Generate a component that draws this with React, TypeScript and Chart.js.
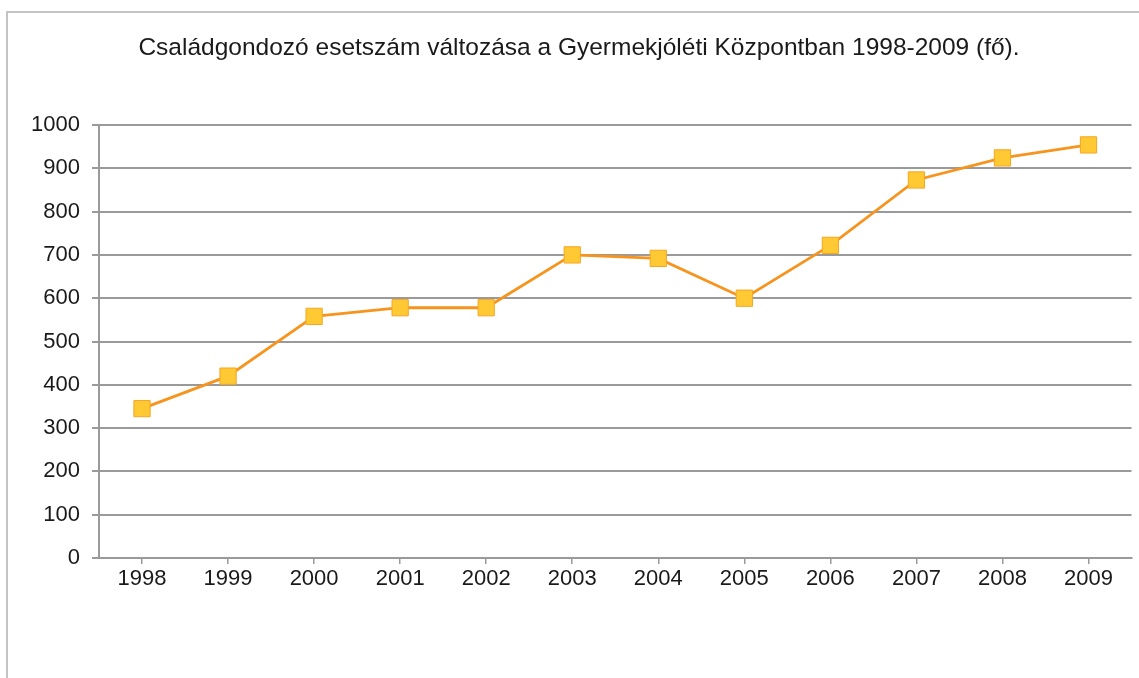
import React, { useEffect, useRef } from "react";
import { Chart, registerables } from "chart.js";

Chart.register(...registerables);

const TITLE = "Családgondozó esetszám változása a Gyermekjóléti Központban 1998-2009 (fő).";
const YEARS = ["1998", "1999", "2000", "2001", "2002", "2003", "2004", "2005", "2006", "2007", "2008", "2009"];
const CASES = [345, 420, 558, 578, 578, 700, 692, 600, 722, 873, 924, 954];
const Y_MIN = 0;
const Y_MAX = 1000;
const Y_STEP = 100;

const FONT = "'Liberation Sans', Arial, sans-serif";

const titlePlugin = {
  id: "offsetTitle",
  afterDraw(chart: any) {
    const ctx = chart.ctx;
    ctx.save();
    ctx.font = `24.5px ${FONT}`;
    ctx.fillStyle = "#1a1a1a";
    ctx.textAlign = "center";
    ctx.textBaseline = "middle";
    ctx.fillText(TITLE, 579, 48);
    ctx.restore();
  },
};

export default function App() {
  const ref = useRef<HTMLCanvasElement | null>(null);

  useEffect(() => {
    if (!ref.current) return;
    const chart = new Chart(ref.current, {
      type: "line",
      data: {
        labels: YEARS,
        datasets: [
          {
            label: "esetszám",
            data: CASES,
            borderColor: "#F7941E",
            borderWidth: 2.8,
            pointStyle: "rect",
            pointRadius: 11.5,
            pointBackgroundColor: "#FFC933",
            pointBorderColor: "#F5A623",
            pointBorderWidth: 1,
            tension: 0,
            fill: false,
          },
        ],
      },
      plugins: [titlePlugin],
      options: {
        responsive: false,
        animation: false,
        layout: { padding: { left: 0, right: 6, top: 125, bottom: 0 } },
        plugins: {
          legend: { display: false },
          tooltip: { enabled: false },
          title: { display: false },
        },
        scales: {
          x: {
            type: "category",
            offset: true,
            grid: {
              display: true,
              drawOnChartArea: false,
              drawTicks: true,
              tickLength: 6,
              color: "#9a9a9a",
              lineWidth: 1.5,
            },
            border: { display: true, color: "#9a9a9a", width: 2 },
            ticks: {
              color: "#1a1a1a",
              padding: 2,
              font: { family: FONT, size: 22 },
              maxRotation: 0,
            },
            afterFit: (scale: any) => {
              scale.height = 120;
              scale.paddingLeft = 0;
              scale.paddingRight = 0;
            },
          },
          y: {
            min: Y_MIN,
            max: Y_MAX,
            ticks: {
              stepSize: Y_STEP,
              color: "#1a1a1a",
              padding: 12,
              font: { family: FONT, size: 22 },
              callback: (v: any) => String(v),
            },
            grid: {
              color: "#9a9a9a",
              lineWidth: 2,
              tickLength: 7,
            },
            border: { display: true, color: "#9a9a9a", width: 2 },
            afterFit: (scale: any) => {
              scale.width = 99;
            },
          },
        },
      },
    });
    return () => chart.destroy();
  }, []);

  return (
    <div style={{ position: "fixed", left: 0, top: 0, width: 1139, height: 678, background: "#fff", overflow: "hidden" }}>
      <div
        style={{
          position: "absolute",
          left: 6,
          top: 11,
          width: 1160,
          height: 700,
          border: "2px solid #c4c4c4",
          boxSizing: "border-box",
        }}
      />
      <canvas ref={ref} width={1144} height={678} style={{ position: "absolute", left: 0, top: 0 }} />
    </div>
  );
}
